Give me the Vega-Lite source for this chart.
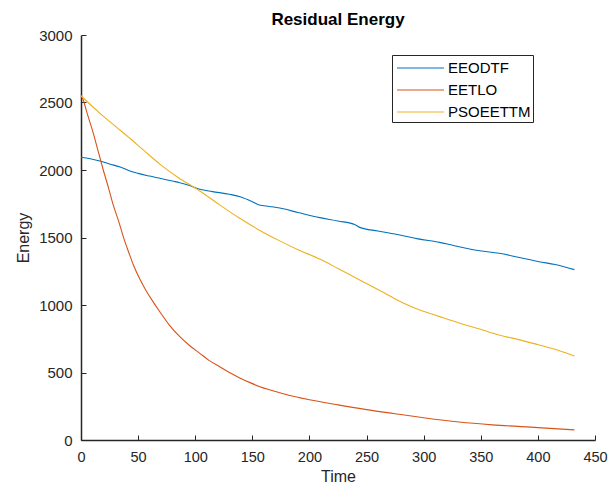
{
  "$schema": "https://vega.github.io/schema/vega-lite/v6.json",
  "width": 514,
  "height": 405,
  "autosize": {"type": "none"},
  "padding": {"left": 81, "top": 35, "right": 13, "bottom": 46},
  "background": "white",
  "config": {"view": {"stroke": null}, "font": "Liberation Sans"},
  "title": {"text": "Residual Energy", "fontSize": 17, "fontWeight": "bold", "color": "black", "anchor": "middle", "offset": -1},
  "data": {"values": [
    {"t": 0, "e": 2095, "s": "EEODTF"},
    {"t": 10, "e": 2080, "s": "EEODTF"},
    {"t": 16.6, "e": 2067, "s": "EEODTF"},
    {"t": 25, "e": 2045, "s": "EEODTF"},
    {"t": 35, "e": 2020, "s": "EEODTF"},
    {"t": 42.8, "e": 1993, "s": "EEODTF"},
    {"t": 50, "e": 1975, "s": "EEODTF"},
    {"t": 60, "e": 1955, "s": "EEODTF"},
    {"t": 70, "e": 1937, "s": "EEODTF"},
    {"t": 80, "e": 1918, "s": "EEODTF"},
    {"t": 86.5, "e": 1906, "s": "EEODTF"},
    {"t": 95, "e": 1885, "s": "EEODTF"},
    {"t": 104, "e": 1857, "s": "EEODTF"},
    {"t": 115, "e": 1840, "s": "EEODTF"},
    {"t": 130, "e": 1820, "s": "EEODTF"},
    {"t": 140, "e": 1800, "s": "EEODTF"},
    {"t": 150, "e": 1765, "s": "EEODTF"},
    {"t": 156, "e": 1741, "s": "EEODTF"},
    {"t": 165, "e": 1730, "s": "EEODTF"},
    {"t": 174, "e": 1718, "s": "EEODTF"},
    {"t": 190, "e": 1685, "s": "EEODTF"},
    {"t": 209, "e": 1647, "s": "EEODTF"},
    {"t": 225, "e": 1622, "s": "EEODTF"},
    {"t": 240, "e": 1595, "s": "EEODTF"},
    {"t": 244, "e": 1575, "s": "EEODTF"},
    {"t": 260, "e": 1548, "s": "EEODTF"},
    {"t": 279, "e": 1519, "s": "EEODTF"},
    {"t": 295, "e": 1490, "s": "EEODTF"},
    {"t": 314, "e": 1464, "s": "EEODTF"},
    {"t": 331, "e": 1432, "s": "EEODTF"},
    {"t": 349, "e": 1402, "s": "EEODTF"},
    {"t": 366, "e": 1383, "s": "EEODTF"},
    {"t": 385, "e": 1350, "s": "EEODTF"},
    {"t": 401, "e": 1321, "s": "EEODTF"},
    {"t": 415, "e": 1300, "s": "EEODTF"},
    {"t": 432, "e": 1262, "s": "EEODTF"},
    {"t": 0, "e": 2550, "s": "EETLO"},
    {"t": 2, "e": 2518, "s": "EETLO"},
    {"t": 5, "e": 2430, "s": "EETLO"},
    {"t": 10.8, "e": 2272, "s": "EETLO"},
    {"t": 15, "e": 2140, "s": "EETLO"},
    {"t": 19.5, "e": 2000, "s": "EETLO"},
    {"t": 24, "e": 1870, "s": "EETLO"},
    {"t": 28.2, "e": 1741, "s": "EETLO"},
    {"t": 33, "e": 1620, "s": "EETLO"},
    {"t": 37, "e": 1506, "s": "EETLO"},
    {"t": 42, "e": 1385, "s": "EETLO"},
    {"t": 45.7, "e": 1300, "s": "EETLO"},
    {"t": 51.6, "e": 1190, "s": "EETLO"},
    {"t": 57.4, "e": 1100, "s": "EETLO"},
    {"t": 63, "e": 1025, "s": "EETLO"},
    {"t": 69, "e": 950, "s": "EETLO"},
    {"t": 77, "e": 855, "s": "EETLO"},
    {"t": 86.5, "e": 765, "s": "EETLO"},
    {"t": 95, "e": 700, "s": "EETLO"},
    {"t": 104, "e": 642, "s": "EETLO"},
    {"t": 112, "e": 590, "s": "EETLO"},
    {"t": 121.5, "e": 543, "s": "EETLO"},
    {"t": 130, "e": 500, "s": "EETLO"},
    {"t": 139, "e": 460, "s": "EETLO"},
    {"t": 148, "e": 425, "s": "EETLO"},
    {"t": 156, "e": 397, "s": "EETLO"},
    {"t": 165, "e": 372, "s": "EETLO"},
    {"t": 174, "e": 350, "s": "EETLO"},
    {"t": 182, "e": 331, "s": "EETLO"},
    {"t": 191, "e": 314, "s": "EETLO"},
    {"t": 200, "e": 298, "s": "EETLO"},
    {"t": 225, "e": 260, "s": "EETLO"},
    {"t": 250, "e": 225, "s": "EETLO"},
    {"t": 275, "e": 195, "s": "EETLO"},
    {"t": 300, "e": 165, "s": "EETLO"},
    {"t": 331, "e": 133, "s": "EETLO"},
    {"t": 360, "e": 112, "s": "EETLO"},
    {"t": 400, "e": 92, "s": "EETLO"},
    {"t": 432, "e": 75, "s": "EETLO"},
    {"t": 0, "e": 2550, "s": "PSOEETTM"},
    {"t": 16.6, "e": 2420, "s": "PSOEETTM"},
    {"t": 30, "e": 2325, "s": "PSOEETTM"},
    {"t": 42.8, "e": 2235, "s": "PSOEETTM"},
    {"t": 55, "e": 2145, "s": "PSOEETTM"},
    {"t": 69, "e": 2044, "s": "PSOEETTM"},
    {"t": 85, "e": 1945, "s": "PSOEETTM"},
    {"t": 104, "e": 1845, "s": "PSOEETTM"},
    {"t": 120, "e": 1750, "s": "PSOEETTM"},
    {"t": 139, "e": 1642, "s": "PSOEETTM"},
    {"t": 155, "e": 1560, "s": "PSOEETTM"},
    {"t": 174, "e": 1475, "s": "PSOEETTM"},
    {"t": 190, "e": 1410, "s": "PSOEETTM"},
    {"t": 209, "e": 1340, "s": "PSOEETTM"},
    {"t": 225, "e": 1270, "s": "PSOEETTM"},
    {"t": 244, "e": 1185, "s": "PSOEETTM"},
    {"t": 262, "e": 1105, "s": "PSOEETTM"},
    {"t": 275, "e": 1045, "s": "PSOEETTM"},
    {"t": 290, "e": 985, "s": "PSOEETTM"},
    {"t": 314, "e": 914, "s": "PSOEETTM"},
    {"t": 331, "e": 866, "s": "PSOEETTM"},
    {"t": 349, "e": 822, "s": "PSOEETTM"},
    {"t": 366, "e": 778, "s": "PSOEETTM"},
    {"t": 385, "e": 740, "s": "PSOEETTM"},
    {"t": 401, "e": 704, "s": "PSOEETTM"},
    {"t": 415, "e": 672, "s": "PSOEETTM"},
    {"t": 432, "e": 622, "s": "PSOEETTM"}
  ]},
  "mark": {"type": "line", "strokeWidth": 1.1, "interpolate": "monotone"},
  "encoding": {
    "x": {"field": "t", "type": "quantitative", "title": "Time",
      "scale": {"domain": [0, 450], "nice": false},
      "axis": {"values": [0, 50, 100, 150, 200, 250, 300, 350, 400, 450], "format": "d", "grid": false, "labelFlush": false, "tickSize": -5, "labelPadding": 15, "labelFontSize": 14.5, "labelColor": "#262626", "domainColor": "#262626", "domainWidth": 1.5, "tickColor": "#262626", "titleFontSize": 16, "titleFontWeight": "normal", "titleColor": "#262626", "titlePadding": 5}},
    "y": {"field": "e", "type": "quantitative", "title": "Energy",
      "scale": {"domain": [0, 3000], "nice": false},
      "axis": {"values": [0, 500, 1000, 1500, 2000, 2500, 3000], "format": "d", "grid": false, "labelFlush": false, "tickSize": -5, "labelPadding": 14, "labelFontSize": 15, "labelColor": "#262626", "domainColor": "#262626", "domainWidth": 1.5, "tickColor": "#262626", "titleFontSize": 16, "titleFontWeight": "normal", "titleColor": "#262626", "titlePadding": 7}},
    "color": {"field": "s", "type": "nominal",
      "scale": {"domain": ["EEODTF", "EETLO", "PSOEETTM"], "range": ["#0072BD", "#D95319", "#EDB120"]},
      "legend": {"title": null, "orient": "none", "legendX": 311, "legendY": 20, "symbolType": "M-2.35,0H2.35", "symbolSize": 400, "symbolStrokeWidth": 1.1, "symbolOffset": 15.5, "labelFontSize": 15, "labelColor": "black", "strokeColor": "#262626", "fillColor": "white", "padding": 2, "rowPadding": 3, "labelOffset": 16.5}}
  }
}
